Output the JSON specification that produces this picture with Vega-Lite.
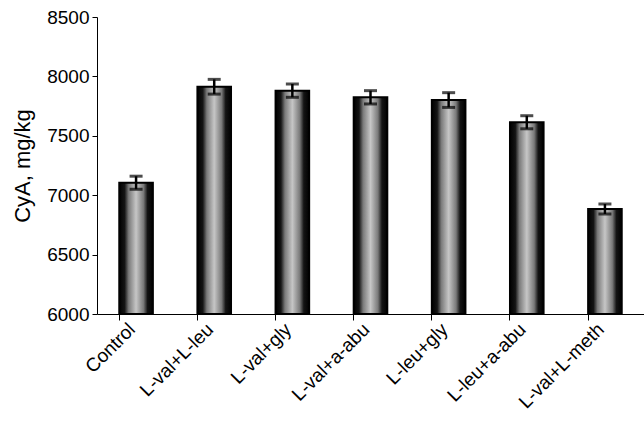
{
  "$schema": "https://vega.github.io/schema/vega-lite/v6.json",
  "autosize": "none",
  "width": 547,
  "height": 297,
  "padding": {"left": 97, "top": 17, "right": 0, "bottom": 109},
  "background": "white",
  "config": {
    "view": {"stroke": null},
    "axis": {"labelFont": "Liberation Sans", "titleFont": "Liberation Sans", "labelColor": "black", "titleColor": "black", "domainColor": "black", "tickColor": "black", "grid": false}
  },
  "data": {
    "values": [
      {"group": "Control", "mean": 7105, "err": 55},
      {"group": "L-val+L-leu", "mean": 7913, "err": 62},
      {"group": "L-val+gly", "mean": 7880, "err": 56},
      {"group": "L-val+a-abu", "mean": 7824, "err": 56},
      {"group": "L-leu+gly", "mean": 7801, "err": 62},
      {"group": "L-leu+a-abu", "mean": 7614, "err": 55},
      {"group": "L-val+L-meth", "mean": 6884, "err": 42}
    ]
  },
  "transform": [
    {"calculate": "datum.mean + datum.err", "as": "hi"},
    {"calculate": "datum.mean - datum.err", "as": "lo"}
  ],
  "encoding": {
    "x": {
      "field": "group", "type": "nominal", "sort": null,
      "scale": {"paddingInner": 0.57, "paddingOuter": 0.285},
      "axis": {"title": null, "labelAngle": -45, "labelAlign": "right", "labelBaseline": "middle", "labelFontSize": 19, "labelPadding": 6, "labelOffset": -4, "bandPosition": 0, "tickSize": 6, "domainWidth": 1}
    }
  },
  "layer": [
    {
      "mark": {
        "type": "bar",
        "stroke": "black",
        "strokeWidth": 2,
        "fill": {"gradient": "linear", "x1": 0, "y1": 0, "x2": 1, "y2": 0,
          "stops": [
            {"offset": 0, "color": "#000000"},
            {"offset": 0.16, "color": "#141414"},
            {"offset": 0.28, "color": "#7a7a7a"},
            {"offset": 0.5, "color": "#c6c6c6"},
            {"offset": 0.72, "color": "#7a7a7a"},
            {"offset": 0.84, "color": "#141414"},
            {"offset": 1, "color": "#000000"}
          ]}
      },
      "encoding": {
        "y": {
          "field": "mean", "type": "quantitative",
          "scale": {"domain": [6000, 8500], "zero": false, "nice": false},
          "axis": {"title": "CyA, mg/kg", "titleFontSize": 22, "titleFontWeight": "normal", "titlePadding": 12, "labelFontSize": 19, "format": "d", "values": [6000, 6500, 7000, 7500, 8000, 8500], "tickSize": 5, "labelPadding": 3}
        },
        "y2": {"datum": 6000}
      }
    },
    {
      "mark": {"type": "rule", "color": "black", "strokeWidth": 2.5},
      "encoding": {
        "y": {"field": "lo", "type": "quantitative"},
        "y2": {"field": "hi"}
      }
    },
    {
      "mark": {"type": "tick", "color": "black", "thickness": 3, "size": 13},
      "encoding": {"y": {"field": "hi", "type": "quantitative"}}
    },
    {
      "mark": {"type": "tick", "color": "black", "thickness": 3, "size": 13},
      "encoding": {"y": {"field": "lo", "type": "quantitative"}}
    }
  ]
}
